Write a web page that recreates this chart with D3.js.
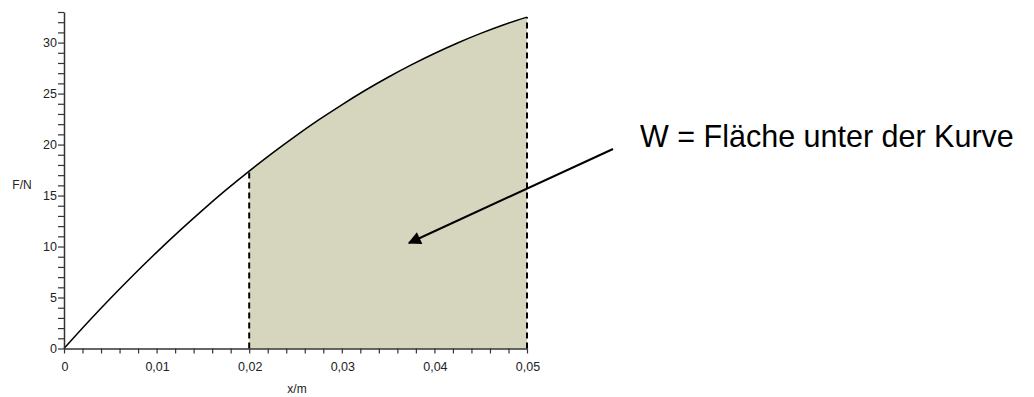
<!doctype html>
<html lang="de">
  <head>
    <meta charset="utf-8">
    <title>Arbeit als Fläche unter der Kurve</title>
    <style>
      * { margin: 0; padding: 0; }
      body { width: 1034px; height: 397px; overflow: hidden; background: #fff; }
      svg text { font-family: "Liberation Sans", Arial, sans-serif; fill: #222; }
    </style>
    <script src="https://cdn.jsdelivr.net/npm/d3@7"></script>
  </head>
  <body>
    <svg width="1034" height="397"></svg>
    <script>
      // Weg x in m und Kraft F in N
      const xValues = [0, 0.0025, 0.005, 0.0075, 0.01, 0.0125, 0.015, 0.0175, 0.02, 0.0225,
                       0.025, 0.0275, 0.03, 0.0325, 0.035, 0.0375, 0.04, 0.0425, 0.045, 0.0475, 0.05];
      const fValues = [0, 2.50, 4.90, 7.21, 9.43, 11.56, 13.60, 15.55, 17.40, 19.16,
                       20.83, 22.41, 23.90, 25.30, 26.60, 27.81, 28.93, 29.96, 30.90, 31.75, 32.50];
      const xTicks = [0, 0.01, 0.02, 0.03, 0.04, 0.05];
      const xTickLabels = ["0", "0,01", "0,02", "0,03", "0,04", "0,05"];
      const yTicks = [0, 5, 10, 15, 20, 25, 30];
      const areaFrom = 0.02, areaTo = 0.05;
      const label = "W = Fläche unter der Kurve";

      const data = xValues.map((x, i) => ({ x, f: fValues[i] }));

      const svg = d3.select("svg");
      const x = d3.scaleLinear().domain([0, 0.05]).range([64, 527]);
      const y = d3.scaleLinear().domain([0, 33]).range([348.5, 12]);

      // shaded area
      const shaded = data.filter(d => d.x >= areaFrom - 1e-9 && d.x <= areaTo + 1e-9);
      svg.append("path")
        .datum(shaded)
        .attr("fill", "#d6d6bf")
        .attr("d", d3.area().x(d => x(d.x)).y0(y(0)).y1(d => y(d.f)));

      // dashed verticals
      [areaFrom, areaTo].forEach(v => {
        const d = data.find(p => Math.abs(p.x - v) < 1e-9);
        svg.append("line")
          .attr("x1", x(v)).attr("x2", x(v))
          .attr("y1", y(0)).attr("y2", y(d.f))
          .attr("stroke", "#000").attr("stroke-width", 2)
          .attr("stroke-dasharray", "6,4");
      });

      // curve
      svg.append("path")
        .datum(data)
        .attr("fill", "none")
        .attr("stroke", "#000")
        .attr("stroke-width", 1.5)
        .attr("d", d3.line().x(d => x(d.x)).y(d => y(d.f)).curve(d3.curveMonotoneX));

      // x axis
      const xMinor = d3.range(0, 0.05 + 1e-9, 0.002);
      const gx = svg.append("g").attr("transform", `translate(0,${y(0)})`);
      gx.call(d3.axisBottom(x).tickValues(xMinor).tickFormat("").tickSize(5).tickSizeOuter(0));
      gx.select(".domain").attr("stroke", "#333").attr("stroke-width", 1.5);
      gx.selectAll(".tick line").attr("stroke", "#333").attr("stroke-width", 1.2);
      gx.selectAll(".xl").data(xTicks).enter().append("text")
        .attr("x", d => x(d) + 1).attr("y", 22)
        .attr("text-anchor", "middle")
        .style("font-size", "12.5px")
        .text((d, i) => xTickLabels[i]);

      // y axis
      const yMinor = d3.range(0, 34, 1);
      const gy = svg.append("g").attr("transform", `translate(${x(0)},0)`);
      gy.call(d3.axisLeft(y).tickValues(yMinor).tickFormat("").tickSize(6).tickSizeOuter(0));
      gy.select(".domain").attr("stroke", "#333").attr("stroke-width", 1.5);
      gy.selectAll(".tick line").attr("stroke", "#333").attr("stroke-width", 1.2);
      gy.selectAll(".yl").data(yTicks).enter().append("text")
        .attr("x", -7).attr("y", d => y(d)).attr("dy", "0.36em")
        .attr("text-anchor", "end")
        .style("font-size", "12.5px")
        .text(d => d);

      // axis titles
      svg.append("text").attr("x", 22).attr("y", 189).attr("text-anchor", "middle")
        .style("font-size", "12px").text("F/N");
      svg.append("text").attr("x", 297).attr("y", 393).attr("text-anchor", "middle")
        .style("font-size", "12px").text("x/m");

      // annotation
      svg.append("defs").append("marker")
        .attr("id", "head").attr("viewBox", "0 0 10 10")
        .attr("refX", 9).attr("refY", 5)
        .attr("markerWidth", 17).attr("markerHeight", 13)
        .attr("markerUnits", "userSpaceOnUse")
        .attr("orient", "auto")
        .append("path").attr("d", "M0,0L10,5L0,10Z").attr("fill", "#000");
      svg.append("line")
        .attr("x1", 613).attr("y1", 149).attr("x2", 409).attr("y2", 243)
        .attr("stroke", "#000").attr("stroke-width", 2)
        .attr("marker-end", "url(#head)");
      svg.append("text").attr("x", 640).attr("y", 147)
        .style("font-size", "30.5px").style("fill", "#000").text(label);
    </script>
  </body>
</html>
